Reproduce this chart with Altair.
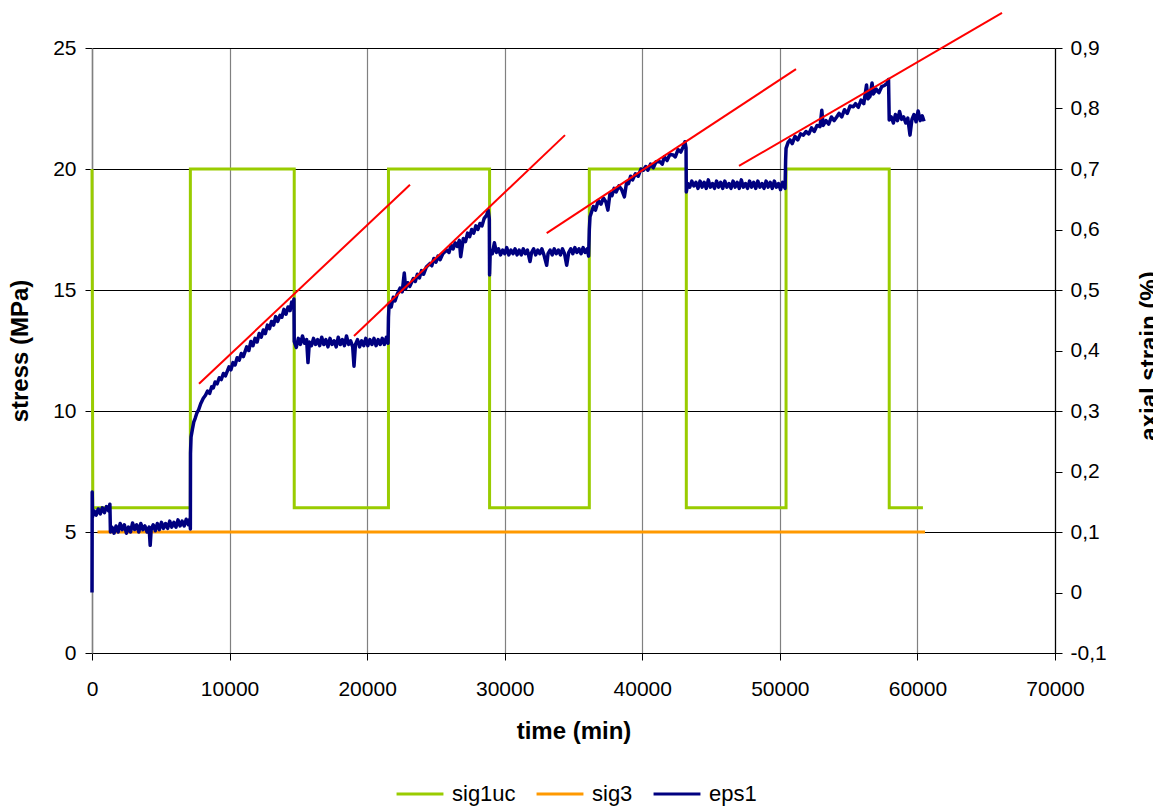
import altair as alt
import pandas as pd

FONT = "Liberation Sans"

# ---- sig1uc (stress, MPa) square wave ----
sig1_t = [0, 60, 7150, 7150, 14700, 14700, 21550, 21550, 28900, 28900,
          36150, 36150, 43200, 43200, 50450, 50450, 57950, 57950, 60400]
sig1_v = [20, 6, 6, 20, 20, 6, 6, 20, 20, 6,
          6, 20, 20, 6, 6, 20, 20, 6, 6]

# ---- sig3 (stress, MPa) ----
sig3_t = [400, 60550]
sig3_v = [5, 5]

# ---- eps1 (axial strain, %) ----
eps_t = [
    0, 15, 40, 150, 300, 450, 600, 750, 900, 1050, 1200, 1300, 1340, 1450, 1600, 1750, 1900, 2050,
    2200, 2350, 2500, 2650, 2800, 2950, 3100, 3250, 3400, 3550, 3700, 3850, 4000, 4150, 4230, 4300,
    4450, 4600, 4750, 4900, 5050, 5200, 5350, 5500, 5650, 5800, 5950, 6100, 6250, 6400, 6550, 6700,
    6850, 7000, 7120,
    7150, 7160, 7200, 7300, 7400, 7500, 7611, 7750, 7900, 8090, 8250, 8400, 8550, 8700, 8817, 8950,
    9100, 9250, 9400, 9550, 9700, 9958, 10100, 10250, 10400, 10550, 10700, 10850, 11000, 11245,
    11400, 11550, 11700, 11850, 12000, 12150, 12300, 12452, 12600, 12750, 12900, 13050, 13200,
    13350, 13500, 13666, 13800, 13950, 14100, 14250, 14400, 14516, 14600, 14680,
    14700, 14850, 15000, 15150, 15300, 15450, 15600, 15700, 15800, 15950, 16100, 16250, 16400,
    16550, 16700, 16850, 17000, 17150, 17300, 17450, 17600, 17750, 17900, 18050, 18200, 18350,
    18500, 18650, 18800, 18950, 19045, 19150, 19300, 19450, 19600, 19750, 19900, 20050, 20200,
    20350, 20500, 20650, 20800, 20950, 21100, 21250, 21400, 21520,
    21550, 21600, 21750, 21900, 22025, 22200, 22389, 22550, 22700, 22800, 22950, 23100, 23359,
    23500, 23650, 23800, 23950, 24100, 24300, 24570, 24700, 24850, 25000, 25150, 25300, 25500,
    25783, 25950, 26100, 26250, 26400, 26550, 26700, 26800, 26990, 27150, 27300, 27450, 27600,
    27750, 27900, 28050, 28204, 28350, 28500, 28690, 28800, 28880,
    28900, 28950, 29100, 29250, 29400, 29550, 29700, 29850, 30000, 30150, 30300, 30450, 30600,
    30750, 30900, 31050, 31200, 31350, 31500, 31650, 31840, 31950, 32100, 32250, 32400, 32550,
    32700, 32850, 33050, 33150, 33300, 33450, 33600, 33750, 33900, 34050, 34200, 34350, 34505,
    34650, 34800, 34950, 35100, 35250, 35400, 35550, 35700, 35850, 36000, 36100,
    36150, 36200, 36443, 36600, 36800, 37000, 37170, 37350, 37500, 37654, 37800, 37950, 38100,
    38300, 38500, 38700, 38866, 39000, 39150, 39300, 39500, 39700, 39900, 40074, 40250, 40400,
    40600, 40800, 41000, 41288, 41450, 41600, 41800, 42000, 42255, 42400, 42600, 42800, 42980,
    43100, 43180,
    43200, 43300, 43450, 43600, 43750, 43900, 44050, 44200, 44350, 44500, 44650, 44800, 44950,
    45100, 45250, 45400, 45550, 45700, 45850, 46000, 46150, 46300, 46450, 46600, 46750, 46900,
    47050, 47200, 47350, 47500, 47650, 47800, 47950, 48100, 48250, 48400, 48550, 48700, 48850,
    49000, 49150, 49300, 49450, 49600, 49750, 49900, 50050, 50200, 50380,
    50420, 50450, 50600, 50737, 50900, 51100, 51300, 51500, 51706, 51900, 52100, 52300, 52500,
    52700, 52918, 53050, 53150, 53350, 53550, 53750, 53950, 54132, 54300, 54500, 54700, 54900,
    55100, 55340, 55500, 55700, 55900, 56100, 56300, 56400, 56553, 56700, 56800, 57000, 57200,
    57400, 57600, 57800, 57900,
    57950, 58100, 58250, 58400, 58550, 58700, 58850, 59000, 59150, 59300, 59460, 59600, 59750,
    59900, 60050, 60200, 60350, 60480,
]
eps_v = [
    0.000, 0.166, 0.125, 0.135, 0.128, 0.138, 0.130, 0.140, 0.132, 0.142, 0.135, 0.146, 0.100, 0.108,
    0.098, 0.110, 0.100, 0.114, 0.104, 0.112, 0.098, 0.108, 0.100, 0.115, 0.104, 0.112, 0.100, 0.114,
    0.104, 0.110, 0.100, 0.108, 0.078, 0.104, 0.112, 0.102, 0.114, 0.104, 0.116, 0.106, 0.114, 0.106,
    0.118, 0.108, 0.116, 0.108, 0.120, 0.110, 0.118, 0.110, 0.121, 0.112, 0.122,
    0.105, 0.230, 0.257, 0.270, 0.282, 0.288, 0.296, 0.302, 0.312, 0.321, 0.326, 0.333, 0.329, 0.340,
    0.338, 0.348, 0.345, 0.355, 0.352, 0.362, 0.358, 0.373, 0.368, 0.380, 0.376, 0.388, 0.384, 0.395,
    0.390, 0.406, 0.400, 0.415, 0.408, 0.420, 0.414, 0.428, 0.422, 0.434, 0.428, 0.442, 0.436, 0.448,
    0.442, 0.456, 0.448, 0.458, 0.455, 0.468, 0.460, 0.472, 0.466, 0.480, 0.470, 0.485,
    0.415, 0.405, 0.420, 0.410, 0.424, 0.412, 0.418, 0.380, 0.414, 0.408, 0.420, 0.410, 0.418,
    0.408, 0.422, 0.410, 0.418, 0.406, 0.420, 0.410, 0.416, 0.406, 0.422, 0.410, 0.418, 0.408,
    0.424, 0.410, 0.416, 0.406, 0.374, 0.410, 0.418, 0.406, 0.416, 0.408, 0.420, 0.408, 0.418,
    0.410, 0.420, 0.408, 0.418, 0.410, 0.420, 0.410, 0.422, 0.412,
    0.455, 0.478, 0.472, 0.488, 0.482, 0.494, 0.503, 0.497, 0.528, 0.502, 0.512, 0.506, 0.519,
    0.514, 0.526, 0.520, 0.532, 0.526, 0.538, 0.544, 0.540, 0.552, 0.546, 0.556, 0.550, 0.560,
    0.566, 0.562, 0.574, 0.568, 0.578, 0.572, 0.582, 0.555, 0.585, 0.580, 0.594, 0.588, 0.600,
    0.594, 0.606, 0.600, 0.610, 0.606, 0.618, 0.624, 0.632, 0.618,
    0.525, 0.566, 0.560, 0.578, 0.562, 0.568, 0.558, 0.566, 0.560, 0.570, 0.558, 0.566, 0.560,
    0.568, 0.558, 0.566, 0.558, 0.568, 0.560, 0.566, 0.547, 0.562, 0.568, 0.558, 0.566, 0.560,
    0.568, 0.558, 0.541, 0.560, 0.566, 0.558, 0.568, 0.560, 0.566, 0.558, 0.568, 0.560, 0.541,
    0.562, 0.568, 0.560, 0.570, 0.562, 0.568, 0.560, 0.570, 0.562, 0.568, 0.556,
    0.600, 0.621, 0.638, 0.632, 0.648, 0.642, 0.652, 0.646, 0.632, 0.660, 0.656, 0.668, 0.662,
    0.672, 0.666, 0.654, 0.679, 0.676, 0.688, 0.682, 0.692, 0.688, 0.700, 0.698, 0.704, 0.698,
    0.708, 0.702, 0.712, 0.712, 0.708, 0.720, 0.714, 0.724, 0.723, 0.720, 0.732, 0.728, 0.737,
    0.745, 0.735,
    0.662, 0.676, 0.670, 0.680, 0.672, 0.678, 0.668, 0.680, 0.670, 0.678, 0.668, 0.682, 0.670,
    0.676, 0.668, 0.680, 0.670, 0.678, 0.668, 0.680, 0.670, 0.676, 0.668, 0.680, 0.670, 0.678,
    0.668, 0.682, 0.670, 0.676, 0.668, 0.680, 0.670, 0.678, 0.668, 0.680, 0.670, 0.676, 0.668,
    0.680, 0.670, 0.678, 0.668, 0.680, 0.670, 0.676, 0.666, 0.678, 0.668,
    0.715, 0.734, 0.744, 0.748, 0.742, 0.754, 0.748, 0.758, 0.756, 0.762, 0.758, 0.768, 0.762,
    0.772, 0.770, 0.797, 0.772, 0.780, 0.774, 0.786, 0.780, 0.786, 0.792, 0.786, 0.798, 0.792,
    0.804, 0.803, 0.808, 0.802, 0.814, 0.808, 0.839, 0.816, 0.820, 0.842, 0.824, 0.832, 0.826,
    0.836, 0.838, 0.842, 0.848,
    0.781, 0.786, 0.776, 0.790, 0.780, 0.795, 0.782, 0.786, 0.776, 0.784, 0.756, 0.782, 0.790,
    0.778, 0.796, 0.780, 0.788, 0.779,
]

# ---- red trend lines (strain) ----
trend_id = ["a", "a", "b", "b", "c", "c", "d", "d"]
trend_t = [7778, 23115, 19045, 34382, 33052, 51174, 47031, 66148]
trend_v = [0.345, 0.674, 0.424, 0.756, 0.594, 0.865, 0.705, 0.958]

series_names = ["sig1uc", "sig3", "eps1"]
series_colors = ["#99CC00", "#FF9900", "#000080"]

stress_df = pd.DataFrame({
    "t": sig1_t + sig3_t,
    "v": sig1_v + sig3_v,
    "series": ["sig1uc"] * len(sig1_t) + ["sig3"] * len(sig3_t),
    "order": list(range(len(sig1_t))) + list(range(len(sig3_t))),
})
eps_df = pd.DataFrame({"t": eps_t, "s": eps_v, "series": "eps1", "order": range(len(eps_t))})
trend_df = pd.DataFrame({"t": trend_t, "s": trend_v, "id": trend_id})

W, H = 963, 605
TITLE_SIZE = 24

x_axis = alt.Axis(
    values=list(range(0, 70001, 10000)), format="d", title="time (min)",
    grid=True, gridColor="#808080", gridWidth=1.2, labelFlush=False,
    domainColor="black", domainWidth=1.2, tickColor="black", tickSize=7,
    labelFontSize=21, labelFont=FONT, labelColor="black", labelPadding=18,
    titleFontSize=TITLE_SIZE, titleFont=FONT, titleFontWeight="bold", titleColor="black",
    titlePadding=20,
)
x_enc = alt.X("t:Q", scale=alt.Scale(domain=[0, 70000], nice=False), axis=x_axis)

color_enc = alt.Color(
    "series:N",
    scale=alt.Scale(domain=series_names, range=series_colors),
    legend=alt.Legend(
        title=None, orient="none", direction="horizontal", legendX=303, legendY=721,
        symbolType="stroke", symbolSize=2200, symbolStrokeWidth=3,
        labelFontSize=22, labelFont=FONT, labelColor="black", labelOffset=7,
        columnPadding=14,
    ),
)

stress = alt.Chart(stress_df).mark_line(strokeWidth=3, interpolate="linear").encode(
    x=x_enc,
    y=alt.Y("v:Q", scale=alt.Scale(domain=[0, 25], nice=False),
            axis=alt.Axis(values=[0, 5, 10, 15, 20, 25], orient="left", title="stress (MPa)",
                          grid=True, gridColor="black", gridWidth=1.2, labelFlush=False,
                          domainColor="#808080", domainWidth=1.5, tickColor="black", tickSize=7,
                          labelFontSize=21, labelFont=FONT, labelColor="black", labelPadding=9,
                          titleFontSize=TITLE_SIZE, titleFont=FONT, titleFontWeight="bold",
                          titleColor="black", titlePadding=20)),
    color=color_enc,
    detail="series:N",
    order="order:Q",
)

strain_axis = alt.Axis(
    values=[round(-0.1 + 0.1 * i, 1) for i in range(11)], orient="right",
    labelExpr="datum.value == 0 ? '0' : replace(replace(format(datum.value, '.1f'), '.', ','), '\u2212', '-')",
    title="axial strain (%)", grid=False, labelFlush=False,
    domainColor="black", domainWidth=1.2, tickColor="black", tickSize=7,
    labelFontSize=21, labelFont=FONT, labelColor="black", labelPadding=8,
    titleFontSize=TITLE_SIZE, titleFont=FONT, titleFontWeight="bold", titleColor="black",
    titleAngle=270, titleX=101, titleY=H / 2 + 5, titleAlign="center", titleBaseline="alphabetic",
)
strain_scale = alt.Scale(domain=[-0.1, 0.9], nice=False)

eps = alt.Chart(eps_df).mark_line(strokeWidth=3.5, strokeJoin="round").encode(
    x=x_enc,
    y=alt.Y("s:Q", scale=strain_scale, axis=strain_axis),
    color=color_enc,
    order="order:Q",
)

trend = alt.Chart(trend_df).mark_line(strokeWidth=2, color="#FF0000").encode(
    x=x_enc,
    y=alt.Y("s:Q", scale=strain_scale, axis=strain_axis),
    detail="id:N",
)

chart = alt.layer(stress, alt.layer(eps, trend)).resolve_scale(y="independent").properties(
    width=W, height=H,
    autosize=alt.AutoSizeParams(type="none"),
    padding={"left": 92, "top": 48, "right": 1153 - 92 - W, "bottom": 808 - 48 - H},
    background="white",
).configure_view(stroke=None)

chart.save("out.html", embed_options={"renderer": "svg", "actions": False})
